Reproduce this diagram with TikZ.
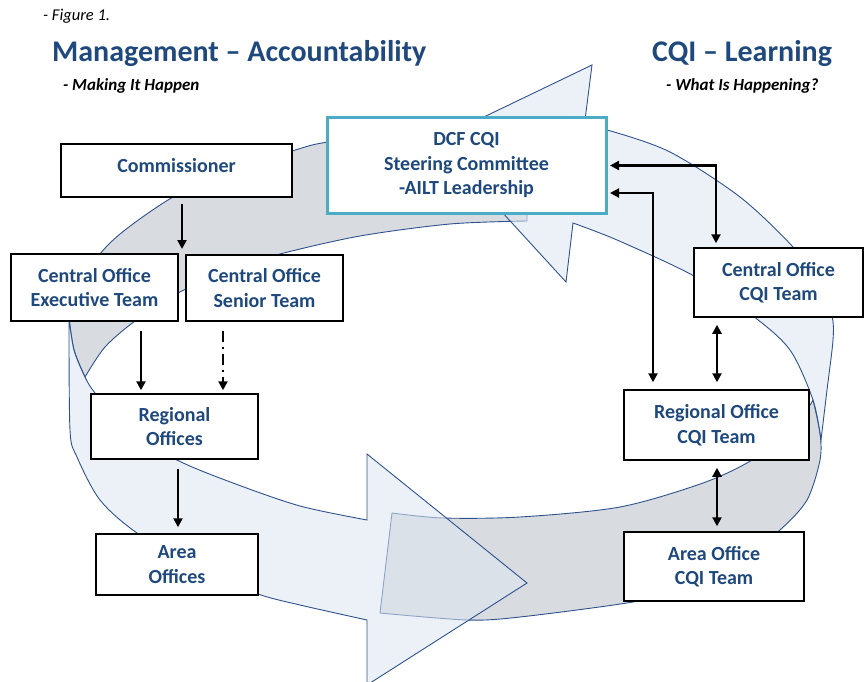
\documentclass[tikz,border=0pt]{standalone}
\usepackage{fontspec}
\setmainfont{Carlito}
\usetikzlibrary{arrows.meta}
\definecolor{cqiblue}{RGB}{31,73,125}
\definecolor{ringline}{RGB}{47,82,143}
\definecolor{ringfront}{RGB}{220,230,242}
\definecolor{ringback}{RGB}{216,219,224}
\definecolor{steerteal}{RGB}{75,172,198}

\begin{document}
\begin{tikzpicture}[x=1pt, y=-1pt,
		box/.style={draw=black, line width=1.5pt, fill=white, text=cqiblue, font=\fontsize{20}{24.5}\selectfont\bfseries, align=center, inner sep=0pt},
		heading/.style={anchor=base west, inner sep=0pt, text=cqiblue, font=\fontsize{30}{36}\selectfont\bfseries},
		motto/.style={anchor=base west, inner sep=0pt, font=\fontsize{17}{20}\selectfont\bfseries\itshape},
		front/.style={draw=ringline, line width=0.9pt, fill=ringfront, fill opacity=0.55},
		back/.style={draw=ringline, line width=0.9pt, fill=ringback},
		flow/.style={line width=2.3pt, -{Triangle[length=9pt, width=9pt]}},
		dflow/.style={line width=2.3pt, {Triangle[length=9pt, width=9pt]}-{Triangle[length=9pt, width=9pt]}}]
	\useasboundingbox (0,0) rectangle (864,682);

	\filldraw[back] (527,125) -- plot[smooth] coordinates {(527,125) (430,130) (328,142) (292,151) (230,170) (173,197) (125,230) (100,254) (80,287) (69,318)}
		-- plot[smooth] coordinates {(69,318) (74,350) (85,377)}
		-- plot[smooth] coordinates {(85,377) (105,347) (135,321) (178,293) (230,270) (280,254) (360,236) (450,224) (527,221)} -- cycle;
	\filldraw[back] (813,400) -- plot[smooth] coordinates {(813,400) (820,433) (820,460) (807,500) (780,530) (735,565) (690,588) (633,602) (520,617) (467,620) (380,613)}
		-- (392,513)
		-- plot[smooth] coordinates {(392,513) (443,518) (520,517) (620,507) (703,483) (752,460) (790,430) (808,408) (813,400)} -- cycle;
	\filldraw[front] (69,318) -- plot[smooth] coordinates {(69,318) (70,430) (77,457) (100,500) (137,533) (200,570) (258,594) (300,605) (367,620)}
		-- (367,685) -- (527,583) -- (367,454) -- (367,520)
		-- plot[smooth] coordinates {(367,520) (300,506) (233,483) (177,460) (125,428) (95,393) (85,377) (74,350) (69,318)} -- cycle;
	\filldraw[front] (584,128) -- (592,65) -- (436,140) -- (566,282) -- (573,223)
		-- plot[smooth] coordinates {(573,223) (617,240) (694,276) (753,316) (790,350) (813,400) (821,440)}
		-- plot[smooth] coordinates {(821,440) (827,390) (833,340) (832,316) (820,285) (793,247) (740,197) (670,152) (607,130) (584,128)} -- cycle;

	\node[anchor=base west, inner sep=0pt, font=\fontsize{16.5}{19}\selectfont\itshape] (fig) at (43,21) {- Figure 1.};
	\node[heading] (mgmt) at (52,62) {Management -- Accountability};
	\node[motto] (mgmtsub) at (63,91) {- Making It Happen};
	\node[heading] (cqi) at (652,62) {CQI -- Learning};
	\node[motto] (cqisub) at (666,91) {- What Is Happening?};

	\node[box, minimum width=231, minimum height=53, text depth=11pt] (comm) at (176.5,170.5) {Commissioner};
	\node[box, minimum width=167, minimum height=67] (coexec) at (94.5,287.5) {Central Office\\Executive Team};
	\node[box, minimum width=157, minimum height=66] (cosen) at (264.5,288) {Central Office\\Senior Team};
	\node[box, minimum width=167, minimum height=65] (reg) at (174.5,426.5) {Regional\\Offices};
	\node[box, minimum width=162, minimum height=61] (area) at (177,564.5) {Area\\Offices};
	\node[box, draw=steerteal, line width=3pt, minimum width=279, minimum height=95] (steer) at (466.5,165.5) {DCF CQI\\Steering Committee\\-AILT Leadership};
	\node[box, minimum width=169, minimum height=69] (cocqi) at (778.5,282.5) {Central Office\\CQI Team};
	\node[box, minimum width=185, minimum height=70] (regcqi) at (716.5,425) {Regional Office\\CQI Team};
	\node[box, minimum width=180, minimum height=69] (areacqi) at (714,566.5) {Area Office\\CQI Team};

	\coordinate (split) at (182,249);
	\draw[flow, shorten <=6pt] (comm.south -| split) -- (split);
	\draw[flow, shorten <=9pt, shorten >=3pt] ([xshift=-33.5]reg.north |- coexec.south) -- ([xshift=-33.5]reg.north);
	\draw[flow, dash pattern=on 11pt off 5pt on 2pt off 5pt, shorten <=9pt, shorten >=3pt] ([xshift=48.5]reg.north |- cosen.south) -- ([xshift=48.5]reg.north);
	\draw[flow, shorten <=9pt, shorten >=6pt] ([xshift=3.5]reg.south) -- ([xshift=3.5]reg.south |- area.north);
	\draw[dflow, shorten <=2.5pt, shorten >=4pt] (steer.east) -| ([xshift=-62.5]cocqi.north);
	\draw[dflow, shorten <=2.5pt, shorten >=7pt] ([yshift=-27.5]steer.east) -| ([xshift=-63.5]regcqi.north);
	\draw[dflow, shorten <=7pt, shorten >=7pt] ([xshift=-61.5]cocqi.south) -- ([xshift=-61.5]cocqi.south |- regcqi.north);
	\draw[dflow, shorten <=7pt, shorten >=5pt] ([xshift=0.5]regcqi.south) -- ([xshift=0.5]regcqi.south |- areacqi.north);
\end{tikzpicture}
\end{document}
